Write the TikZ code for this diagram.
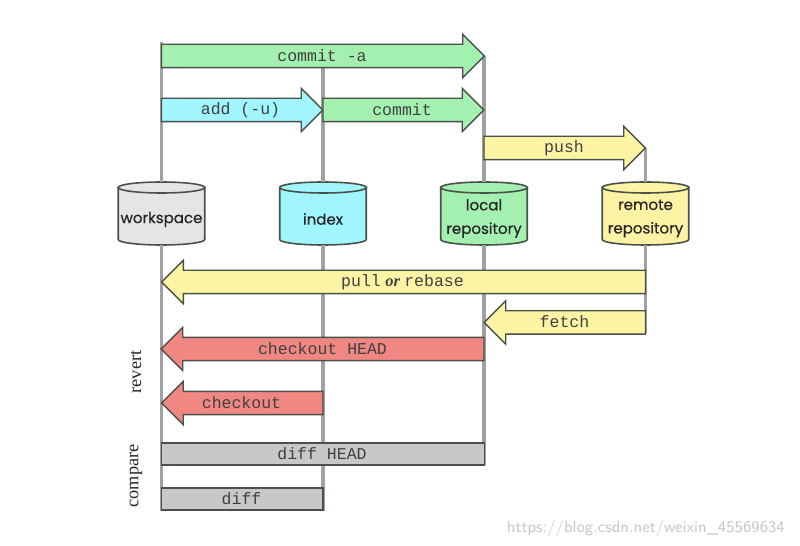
\documentclass[tikz,border=0pt]{standalone}
\usepackage{fontspec}
\setmainfont{Liberation Serif}
\setmonofont{Liberation Mono}
\newfontfamily\cylfont[FakeBold=0.4]{Poppins}
\usetikzlibrary{positioning, shapes.geometric, shapes.arrows}
\definecolor{gitgreen}{RGB}{163,240,176}
\definecolor{gitcyan}{RGB}{160,245,255}
\definecolor{gityellow}{RGB}{253,243,165}
\definecolor{gitred}{RGB}{240,135,130}
\definecolor{gitgray}{RGB}{200,200,200}
\definecolor{gitline}{RGB}{72,80,72}
\tikzset{
    storebox/.style={rectangle, minimum width=1.73cm, minimum height=1.26cm, inner sep=0pt, outer sep=0pt},
    storeline/.style={draw=gitline, line width=0.9pt},
    storelbl/.style={font=\cylfont\fontsize{8.55}{13.4}\selectfont, align=center, text=black!85},
    rightarr/.style={single arrow, single arrow head extend=0.2cm, draw=gitline, fill=#1, line width=0.8pt, inner xsep=0pt, inner ysep=0.22cm, outer sep=0pt, anchor=tail},
    leftarr/.style={rightarr=#1, shape border rotate=180},
    barbox/.style={rectangle, draw=gitline, fill=gitgray, line width=0.8pt, minimum height=0.44cm, inner sep=0pt, outer sep=0pt, anchor=west},
    cmdlbl/.style={font=\ttfamily\fontsize{9.4}{11}\selectfont, text=black!75},
    sidelbl/.style={font=\fontsize{10.4}{12}\selectfont, rotate=90, text=black!85},
    lane/.style={line width=1.9pt, color=black!37}
}
\begin{document}
\begin{tikzpicture}[x=0.02cm, y=-0.02cm]
    \useasboundingbox (0,0) rectangle (800,546);

    % Repositories
    \foreach \name/\x/\col in {workspace/161.5/black!10, index/323/gitcyan, local/484/gitgreen, remote/645.5/gityellow} {
        \node[storebox] (\name) at (\x,213.5) {};
        \path[storeline, fill=\col] (\x-43.25,187.5) -- (\x-43.25,239.5) arc[start angle=180, end angle=360, x radius=0.865cm, y radius=0.11cm] -- (\x+43.25,187.5) -- cycle;
        \path[storeline, fill=\col] (\x,187.5) ellipse[x radius=0.865cm, y radius=0.11cm];
    }
    \node[storelbl] (workspacelbl) at (161.5,219.5) {workspace};
    \node[storelbl] (indexlbl) at (323,219) {index};
    \node[storelbl] (locallbl) at (484,218.5) {local\\repository};
    \node[storelbl] (remotelbl) at (645.5,218.5) {remote\\repository};

    % Lanes
    \coordinate (wstop) at (161.5,42);
    \coordinate (wsend) at (161.5,511);
    \coordinate (ixtop) at (323,66);
    \coordinate (ixend) at (323,511);
    \coordinate (lotop) at (484,56);
    \coordinate (loend) at (484,465);
    \coordinate (retop) at (645.5,148);
    \coordinate (reend) at (645.5,333);
    \draw[lane] (wstop) -- (workspace);
    \draw[lane] (workspace) -- (wsend);
    \draw[lane] (ixtop) -- (index);
    \draw[lane] (index) -- (ixend);
    \draw[lane] (lotop) -- (local);
    \draw[lane] (local) -- (loend);
    \draw[lane] (retop) -- (remote);
    \draw[lane] (remote) -- (reend);

    % Upstream
    \node[rightarr=gitgreen, minimum height=6.46cm] (commita) at (161.5,56) {};
    \node[cmdlbl] at (322,56) {commit -a};
    \node[rightarr=gitcyan, minimum height=3.23cm] (add) at (161.5,110) {};
    \node[cmdlbl] at (240.5,110) {add (-u)};
    \node[rightarr=gitgreen, minimum height=3.22cm] (commit) at (323,110) {};
    \node[cmdlbl] at (402,110) {commit};
    \node[rightarr=gityellow, minimum height=3.23cm] (push) at (484,148) {};
    \node[cmdlbl] at (564,148) {push};

    % Downstream
    \node[leftarr=gityellow, minimum height=9.68cm] (pull) at (645.5,282) {};
    \node[cmdlbl] at (402.5,282) {pull\kern2.5pt{\rmfamily\itshape\bfseries or}\kern2.5pt rebase};
    \node[leftarr=gityellow, minimum height=3.23cm] (fetch) at (645.5,322.5) {};
    \node[cmdlbl] at (564.5,322) {fetch};

    % Revert
    \node[leftarr=gitred, minimum height=6.46cm] (checkouthead) at (484,349) {};
    \node[cmdlbl] at (322.5,348.5) {checkout HEAD};
    \node[leftarr=gitred, minimum height=3.23cm] (checkout) at (323,403) {};
    \node[cmdlbl] at (241.5,402.5) {checkout};

    % Compare
    \node[barbox, minimum width=6.46cm] (diffhead) at (161.5,454) {};
    \node[cmdlbl] at (322,453.5) {diff HEAD};
    \node[barbox, minimum width=3.23cm] (diff) at (161.5,499) {};
    \node[cmdlbl] at (241.5,498.5) {diff};

    \node[sidelbl] (revert) at (136,372) {revert};
    \node[sidelbl] (compare) at (136,476) {compare};

    % Watermark
    \node[font=\sffamily\fontsize{9.25}{11}\selectfont, text=black!22, anchor=east] (mark) at (791,528) {https://blog.csdn.net/weixin\_45569634};
\end{tikzpicture}
\end{document}
